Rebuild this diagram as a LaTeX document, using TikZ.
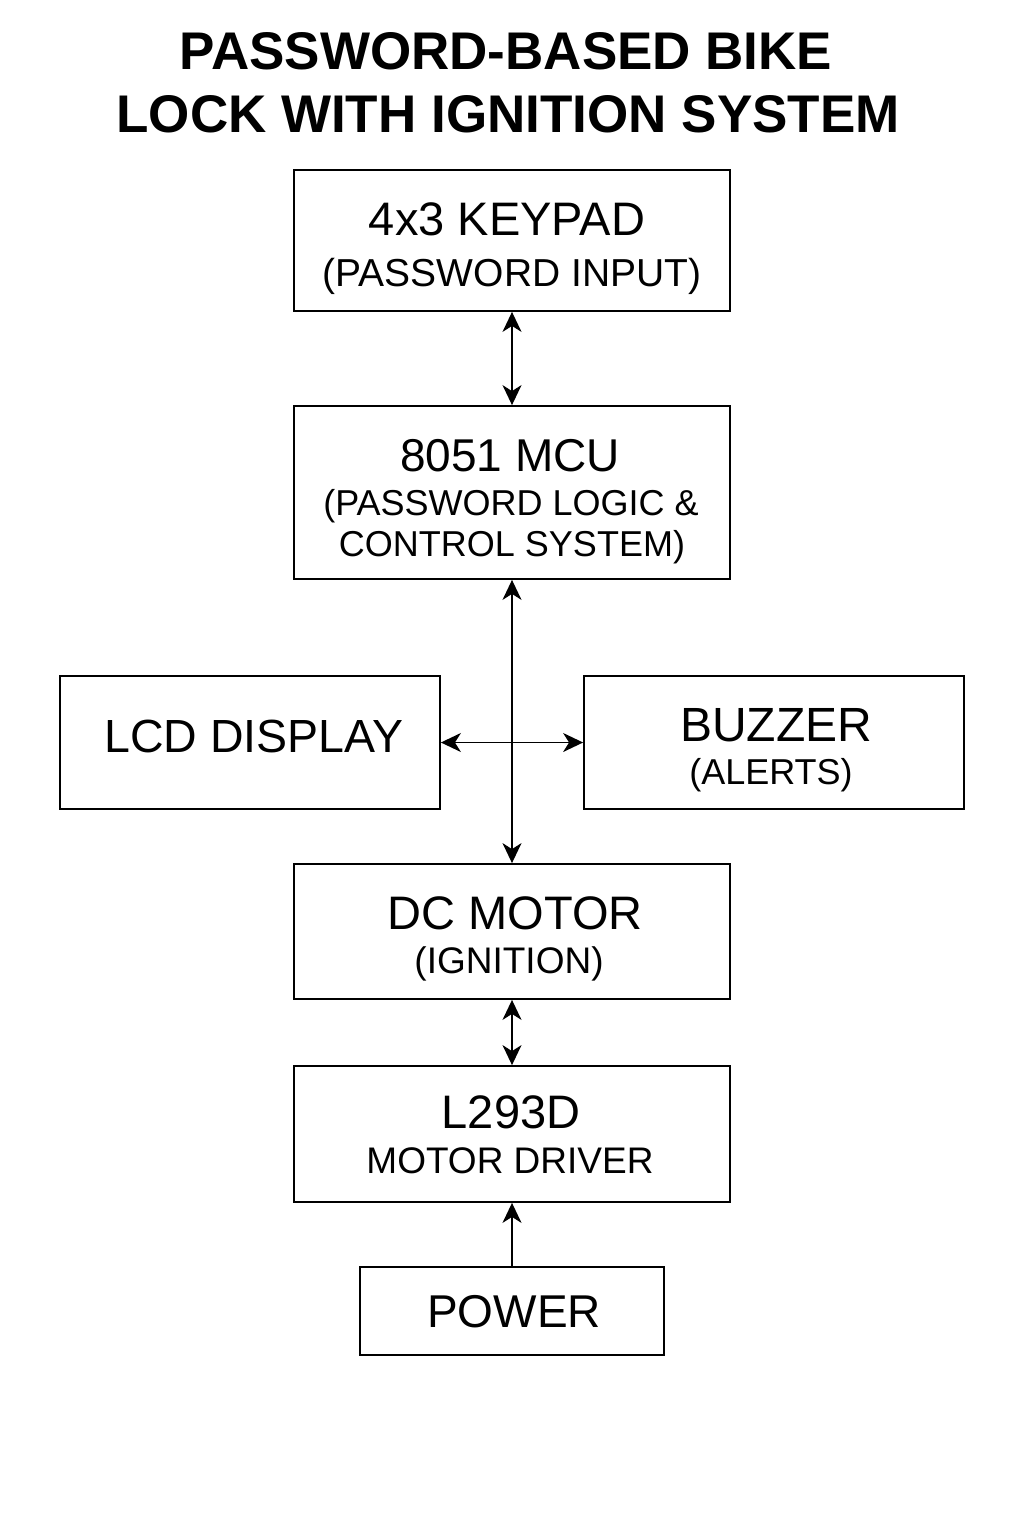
\documentclass[tikz,border=0pt]{standalone}
\usepackage{fontspec}
\setmainfont{Liberation Sans}
\usetikzlibrary{arrows.meta}
\begin{document}
\begin{tikzpicture}[x=1pt,y=-1pt,
  blk/.style={draw=black,line width=1.8pt,rectangle,inner sep=0pt},
  txtbig/.style={inner sep=0pt,anchor=base,font=\fontsize{47}{50}\selectfont},
  txtsub/.style={inner sep=0pt,anchor=base,font=\fontsize{37}{40}\selectfont},
  ttl/.style={inner sep=0pt,anchor=base,font=\fontsize{53}{56}\selectfont\bfseries},
  tip/.tip={Stealth[length=20pt,width=19pt,inset=6pt]},
  conn/.style={line width=1.6pt,tip-tip},
  conn1/.style={line width=1.6pt,-tip}
]
\fill[white] (0,0) rectangle (1024,1536);
\path[use as bounding box] (0,0) rectangle (1024,1536);

% title
\node[ttl] (t1) at (506,70) {PASSWORD-BASED BIKE};
\node[ttl] (t2) at (508,132) {LOCK WITH IGNITION SYSTEM};

% boxes
\node[blk,minimum width=436pt,minimum height=141pt] (kp) at (512,240.5) {};
\node[blk,minimum width=436pt,minimum height=173pt] (mcu) at (512,492.5) {};
\node[blk,minimum width=380pt,minimum height=133pt] (lcd) at (250,742.5) {};
\node[blk,minimum width=380pt,minimum height=133pt] (buz) at (774,742.5) {};
\node[blk,minimum width=436pt,minimum height=135pt] (dc) at (512,931.5) {};
\node[blk,minimum width=436pt,minimum height=136pt] (drv) at (512,1134) {};
\node[blk,minimum width=304pt,minimum height=88pt] (pwr) at (512,1311) {};

% texts
\node[txtbig] (kp1) at (507,235) {4x3 KEYPAD};
\node[txtsub,font=\fontsize{39}{42}\selectfont] (kp2) at (512,286) {(PASSWORD INPUT)};

\node[txtbig,font=\fontsize{46}{50}\selectfont] (mcu1) at (510,471) {8051 MCU};
\node[txtsub,font=\fontsize{36}{40}\selectfont] (mcu2) at (511,515) {(PASSWORD LOGIC \&};
\node[txtsub,font=\fontsize{36}{40}\selectfont] (mcu3) at (512,556) {CONTROL SYSTEM)};

\node[txtbig,font=\fontsize{46.5}{50}\selectfont] (lcd1) at (254,752) {LCD DISPLAY};

\node[txtbig,font=\fontsize{48}{50}\selectfont] (buz1) at (776,741) {BUZZER};
\node[txtsub,font=\fontsize{36}{40}\selectfont] (buz2) at (771,784) {(ALERTS)};

\node[txtbig] (dc1) at (515,929) {DC MOTOR};
\node[txtsub] (dc2) at (509,973) {(IGNITION)};

\node[txtbig] (drv1) at (511,1128) {L293D};
\node[txtsub] (drv2) at (510,1173) {MOTOR DRIVER};

\node[txtbig,font=\fontsize{46}{50}\selectfont] (pwr1) at (514,1327) {POWER};

% connectors
\draw[conn] (kp.south) -- (mcu.north);
\draw[conn] (mcu.south) -- (dc.north);
\draw[conn] (lcd.east) -- (buz.west);
\draw[conn] (dc.south) -- (drv.north);
\draw[conn1] (pwr.north) -- (drv.south);
\end{tikzpicture}
\end{document}
